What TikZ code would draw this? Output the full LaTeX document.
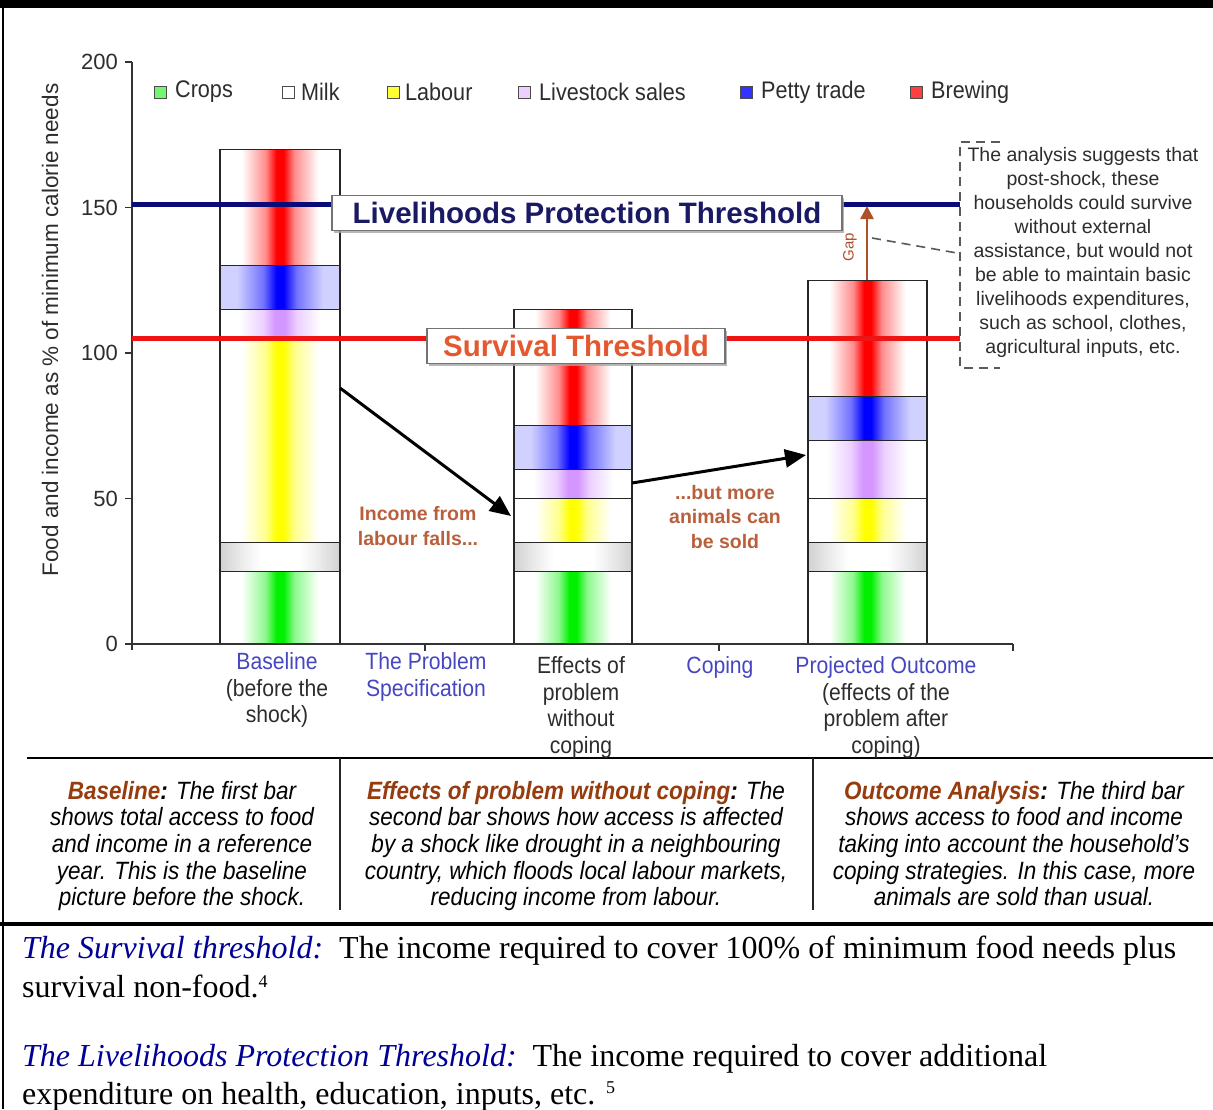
\documentclass[tikz,border=0pt]{standalone}
\usepackage{fontspec}
\setmainfont{Liberation Serif}
\setsansfont{Liberation Sans}
\newfontfamily\chartsans{Liberation Sans}
\newfontfamily\narrowsans[FakeStretch=0.9]{Liberation Sans}
\usetikzlibrary{arrows.meta,shadows}

\definecolor{crop}{RGB}{0,240,0}
\definecolor{lab}{RGB}{255,255,0}
\definecolor{live}{RGB}{212,150,255}
\definecolor{petty}{RGB}{0,0,255}
\definecolor{brew}{RGB}{255,0,0}
\definecolor{milkgray}{RGB}{212,212,212}
\definecolor{navyline}{RGB}{10,10,120}
\definecolor{survred}{RGB}{238,20,20}
\definecolor{survtext}{RGB}{228,88,48}
\definecolor{lptext}{RGB}{25,25,100}
\definecolor{catblue}{RGB}{70,70,195}
\definecolor{txtgray}{RGB}{45,45,45}
\definecolor{notebrown}{RGB}{185,95,60}
\definecolor{headbrown}{RGB}{150,60,15}
\definecolor{gapbrown}{RGB}{175,80,40}
\definecolor{defblue}{RGB}{0,0,150}

\colorlet{cropmid}{crop!45}
\colorlet{labmid}{lab!45}
\colorlet{livemid}{live!45}
\colorlet{pettyedge}{petty!18}
\colorlet{pettymid}{petty!55}
\colorlet{brewmid}{brew!45}
\colorlet{milkmid}{milkgray!45}

\pgfdeclarehorizontalshading{brewshade}{100bp}{color(0bp)=(white); color(34bp)=(white); color(44bp)=(brewmid); color(48.5bp)=(brew); color(51.5bp)=(brew); color(56bp)=(brewmid); color(66bp)=(white); color(100bp)=(white)}
\pgfdeclarehorizontalshading{cropshade}{100bp}{color(0bp)=(white); color(34bp)=(white); color(44bp)=(cropmid); color(48.5bp)=(crop); color(51.5bp)=(crop); color(56bp)=(cropmid); color(66bp)=(white); color(100bp)=(white)}
\pgfdeclarehorizontalshading{labshade}{100bp}{color(0bp)=(white); color(34bp)=(white); color(44bp)=(labmid); color(48.5bp)=(lab); color(51.5bp)=(lab); color(56bp)=(labmid); color(66bp)=(white); color(100bp)=(white)}
\pgfdeclarehorizontalshading{liveshade}{100bp}{color(0bp)=(white); color(33bp)=(white); color(43bp)=(livemid); color(48bp)=(live); color(52bp)=(live); color(57bp)=(livemid); color(67bp)=(white); color(100bp)=(white)}
\pgfdeclarehorizontalshading{pettyshade}{100bp}{color(0bp)=(pettyedge); color(32bp)=(pettyedge); color(43bp)=(pettymid); color(48.5bp)=(petty); color(51.5bp)=(petty); color(57bp)=(pettymid); color(68bp)=(pettyedge); color(100bp)=(pettyedge)}
\pgfdeclarehorizontalshading{milkshade}{100bp}{color(0bp)=(milkgray); color(26bp)=(milkgray); color(34bp)=(milkmid); color(42bp)=(white); color(58bp)=(white); color(66bp)=(milkmid); color(74bp)=(milkgray); color(100bp)=(milkgray)}

\newcommand\barseg[5]{%
  \shade[shading=#5] (#1,{644-2.91*(#3)}) rectangle (#2,{644-2.91*(#4)});
  \draw[segline] (#1,{644-2.91*(#3)}) rectangle (#2,{644-2.91*(#4)});
}

\tikzset{
  segline/.style={draw=black!85, line width=1.3pt},
  axisline/.style={draw=black!80, line width=1.5pt},
  frameline/.style={draw=black, line width=2.5pt},
  sepline/.style={draw=black!85, line width=1.4pt},
  lpline/.style={draw=navyline, line width=5pt},
  survline/.style={draw=survred, line width=5pt},
  labelbox/.style={draw=black!55, line width=1.3pt, fill=white, inner sep=0pt,
    drop shadow={shadow xshift=2pt, shadow yshift=-2pt, fill=black!35, opacity=0.8}},
  bigarrow/.style={draw=black, line width=3pt, -{Triangle[length=21pt,width=18pt]}},
  gaparrow/.style={draw=gapbrown, line width=2.5pt, -{Triangle[length=13pt,width=13pt]}},
  dashline/.style={draw=black!65, line width=1.6pt, dash pattern=on 9pt off 6pt},
  ticklab/.style={anchor=east, inner sep=0pt, text=txtgray, font=\chartsans\fontsize{22}{26}\selectfont},
  legsq/.style={draw=black!70, line width=1pt, minimum size=12pt, inner sep=0pt},
  legtext/.style={anchor=west, inner sep=0pt, text=txtgray, font=\narrowsans\fontsize{24}{26}\selectfont},
  catlab/.style={anchor=north, inner sep=0pt, align=center, text=txtgray, font=\narrowsans\fontsize{23.5}{26.8}\selectfont},
  notelab/.style={anchor=center, inner sep=0pt, align=center, text=notebrown, font=\chartsans\bfseries\fontsize{19.5}{24.5}\selectfont},
  annot/.style={anchor=north, inner sep=0pt, align=center, text=txtgray, font=\chartsans\fontsize{19.5}{24}\selectfont},
  boxtext/.style={anchor=north, inner sep=0pt, align=center, text=black, font=\narrowsans\itshape\fontsize{25}{26.6}\selectfont},
  deftext/.style={anchor=base west, inner sep=0pt, text=black, font=\fontsize{32}{36}\selectfont},
}

\begin{document}
\begin{tikzpicture}[x=1pt,y=-1pt]
\useasboundingbox (0,0) rectangle (1213,1109);
\fill[white] (0,0) rectangle (1213,1109);

% frame
\fill[black] (0,0) rectangle (1213,8);
\draw[frameline] (3,0) -- (3,1109);
\draw[frameline] (27,758) -- (1213,758);
\draw[draw=black, line width=3.5pt] (0,924) -- (1213,924);
\draw[sepline] (340,758) -- (340,910);
\draw[sepline] (813,758) -- (813,910);

% bars
\barseg{220}{340}{0}{25}{cropshade}
\barseg{220}{340}{25}{35}{milkshade}
\barseg{220}{340}{35}{105}{labshade}
\barseg{220}{340}{105}{115}{liveshade}
\barseg{220}{340}{115}{130}{pettyshade}
\barseg{220}{340}{130}{170}{brewshade}

\barseg{514}{632}{0}{25}{cropshade}
\barseg{514}{632}{25}{35}{milkshade}
\barseg{514}{632}{35}{50}{labshade}
\barseg{514}{632}{50}{60}{liveshade}
\barseg{514}{632}{60}{75}{pettyshade}
\barseg{514}{632}{75}{115}{brewshade}

\barseg{808}{927}{0}{25}{cropshade}
\barseg{808}{927}{25}{35}{milkshade}
\barseg{808}{927}{35}{50}{labshade}
\barseg{808}{927}{50}{70}{liveshade}
\barseg{808}{927}{70}{85}{pettyshade}
\barseg{808}{927}{85}{125}{brewshade}

% axes
\draw[axisline] (132,62) -- (132,650);
\draw[axisline] (132,644) -- (1013,644);
\foreach \v/\nm in {0/t0,50/t50,100/t100,150/t150,200/t200}{
  \draw[axisline] (125,{644-2.91*\v}) -- (132,{644-2.91*\v});
  \node[ticklab] (\nm) at (118,{644-2.91*\v}) {\v};
}
\foreach \xx in {425,719,1013}{
  \draw[axisline] (\xx,644) -- (\xx,651);
}
\node[rotate=90, inner sep=0pt, text=txtgray, font=\chartsans\fontsize{22.5}{24}\selectfont] (ylab) at (50,330) {Food and income as \% of minimum calorie needs};

% legend
\node[legsq, fill=crop!55] (sq1) at (160,92) {};
\node[legtext] (lg1) at (175,92) {Crops};
\node[legsq, fill=white] (sq2) at (288,92) {};
\node[legtext] (lg2) at (301,92) {Milk};
\node[legsq, fill=lab!80] (sq3) at (393,92) {};
\node[legtext] (lg3) at (405,92) {Labour};
\node[legsq, fill=live!45] (sq4) at (524,92) {};
\node[legtext] (lg4) at (539,92) {Livestock sales};
\node[legsq, fill=petty!80] (sq5) at (746,92) {};
\node[legtext] (lg5) at (761,92) {Petty trade};
\node[legsq, fill=brew!75] (sq6) at (916,92) {};
\node[legtext] (lg6) at (931,92) {Brewing};

% threshold lines
\coordinate (lpL) at (132,204);
\coordinate (lpR) at (960,204);
\coordinate (svL) at (132,338);
\coordinate (svR) at (960,338);
\draw[lpline] (lpL) -- (lpR);
\draw[survline] (svL) -- (svR);

% gap arrow
\coordinate (gapS) at (867,280);
\coordinate (gapE) at (867,206);
\draw[gaparrow] (gapS) -- (gapE);
\node[rotate=90, inner sep=0pt, text=gapbrown, font=\chartsans\fontsize{15}{16}\selectfont] (gaplab) at (850,247) {Gap};

% label boxes
\node[labelbox, minimum width=510pt, minimum height=35pt, text=lptext, font=\chartsans\bfseries\fontsize{29.5}{32}\selectfont] (lplab) at (587,213) {Livelihoods Protection Threshold};
\node[labelbox, minimum width=298pt, minimum height=35pt, text=survtext, font=\chartsans\bfseries\fontsize{29.5}{32}\selectfont] (svlab) at (576,346) {Survival Threshold};

% annotation bracket
\coordinate (brT) at (1000,142);
\coordinate (brTL) at (960,142);
\coordinate (brBL) at (960,368);
\coordinate (brB) at (1000,368);
\draw[dashline] (brT) -- (brTL) -- (brBL) -- (brB);
\coordinate (gapdash) at (872,238);
\coordinate (notedash) at (957,253);
\draw[dashline] (gapdash) -- (notedash);
\node[annot] (note) at (1083,147) {The analysis suggests that\\post-shock, these\\households could survive\\without external\\assistance, but would not\\be able to maintain basic\\livelihoods expenditures,\\such as school, clothes,\\agricultural inputs, etc.};

% black arrows
\coordinate (a1s) at (340,388);
\coordinate (a1e) at (511,516);
\coordinate (a2s) at (632,483);
\coordinate (a2e) at (806,455);
\draw[bigarrow] (a1s) -- (a1e);
\draw[bigarrow] (a2s) -- (a2e);

\node[notelab] (n1) at (418,526) {Income from\\labour falls...};
\node[notelab] (n2) at (725,517) {...but more\\animals can\\be sold};

% category labels
\node[catlab] (c1) at (277,652) {\textcolor{catblue}{Baseline}\\(before the\\shock)};
\node[catlab] (c2) at (426,652) {\textcolor{catblue}{The Problem}\\\textcolor{catblue}{Specification}};
\node[catlab] (c3) at (581,656) {Effects of\\problem\\without\\coping};
\node[catlab] (c4) at (720,656) {\textcolor{catblue}{Coping}};
\node[catlab] (c5) at (886,656) {\textcolor{catblue}{Projected Outcome}\\(effects of the\\problem after\\coping)};

% explanation boxes
\node[boxtext] (b1) at (182,781) {{\bfseries\textcolor{headbrown}{Baseline}:} The first bar\\shows total access to food\\and income in a reference\\year. This is the baseline\\picture before the shock.};
\node[boxtext] (b2) at (576,781) {{\bfseries\textcolor{headbrown}{Effects of problem without coping}:} The\\second bar shows how access is affected\\by a shock like drought in a neighbouring\\country, which floods local labour markets,\\reducing income from labour.};
\node[boxtext] (b3) at (1014,781) {{\bfseries\textcolor{headbrown}{Outcome Analysis}:} The third bar\\shows access to food and income\\taking into account the household’s\\coping strategies. In this case, more\\animals are sold than usual.};

% definitions
\node[deftext] (d1) at (22,958) {\textcolor{defblue}{\itshape The Survival threshold:}\ \ The income required to cover 100\% of minimum food needs plus};
\node[deftext] (d2) at (22,997) {survival non-food.{\fontsize{18}{18}\selectfont\raisebox{10pt}{4}}};
\node[deftext] (d3) at (22,1066) {\textcolor{defblue}{\itshape The Livelihoods Protection Threshold:}\ \ The income required to cover additional};
\node[deftext] (d4) at (22,1104) {expenditure on health, education, inputs, etc. {\fontsize{18}{18}\selectfont\raisebox{11pt}{5}}};
\end{tikzpicture}
\end{document}
